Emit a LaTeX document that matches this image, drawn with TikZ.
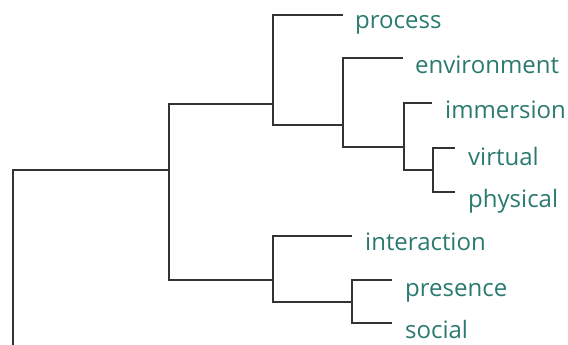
\documentclass[tikz,border=0pt]{standalone}
\usepackage{fontspec}
\setmainfont{Open Sans}
\definecolor{leafteal}{HTML}{2B7A70}
\definecolor{branchgray}{HTML}{333333}

\begin{document}
\begin{tikzpicture}[
  x=1pt,y=-1pt,
  branch/.style={draw=branchgray,line width=2.5pt,line join=miter},
  leaf/.style={anchor=base west,inner sep=0pt,text=leafteal,font=\fontsize{24}{27}\selectfont}
  ]
  \useasboundingbox (0,0) rectangle (568,345);

  % junctions
  \coordinate (root) at (13,345);
  \coordinate (n1) at (169,170);
  \coordinate (n2) at (273,104);
  \coordinate (n3) at (273,280);
  \coordinate (n4) at (343,125);
  \coordinate (n5) at (404,147);
  \coordinate (n6) at (433,170);
  \coordinate (n7) at (352,302);

  % leaves: name / line end / text position
  \foreach \name/\ex/\ey/\tx/\ty in {
    process/343/15/355/29,
    environment/403/58/415/74,
    immersion/432/103/445/118,
    virtual/455/148/468/165,
    physical/455/192/468/207,
    interaction/352/236/365/250,
    presence/392/280/405/296,
    social/392/323/405/338} {
    \coordinate (e-\name) at (\ex,\ey);
    \node[leaf] (\name) at (\tx,\ty) {\name};
  }

  \path[branch] (root) |- (n1);
  \path[branch] (n1) |- (n2);
  \path[branch] (n1) |- (n3);
  \path[branch] (n2) |- (e-process);
  \path[branch] (n2) |- (n4);
  \path[branch] (n4) |- (e-environment);
  \path[branch] (n4) |- (n5);
  \path[branch] (n5) |- (e-immersion);
  \path[branch] (n5) |- (n6);
  \path[branch] (n6) |- (e-virtual);
  \path[branch] (n6) |- (e-physical);
  \path[branch] (n3) |- (e-interaction);
  \path[branch] (n3) |- (n7);
  \path[branch] (n7) |- (e-presence);
  \path[branch] (n7) |- (e-social);
\end{tikzpicture}
\end{document}
